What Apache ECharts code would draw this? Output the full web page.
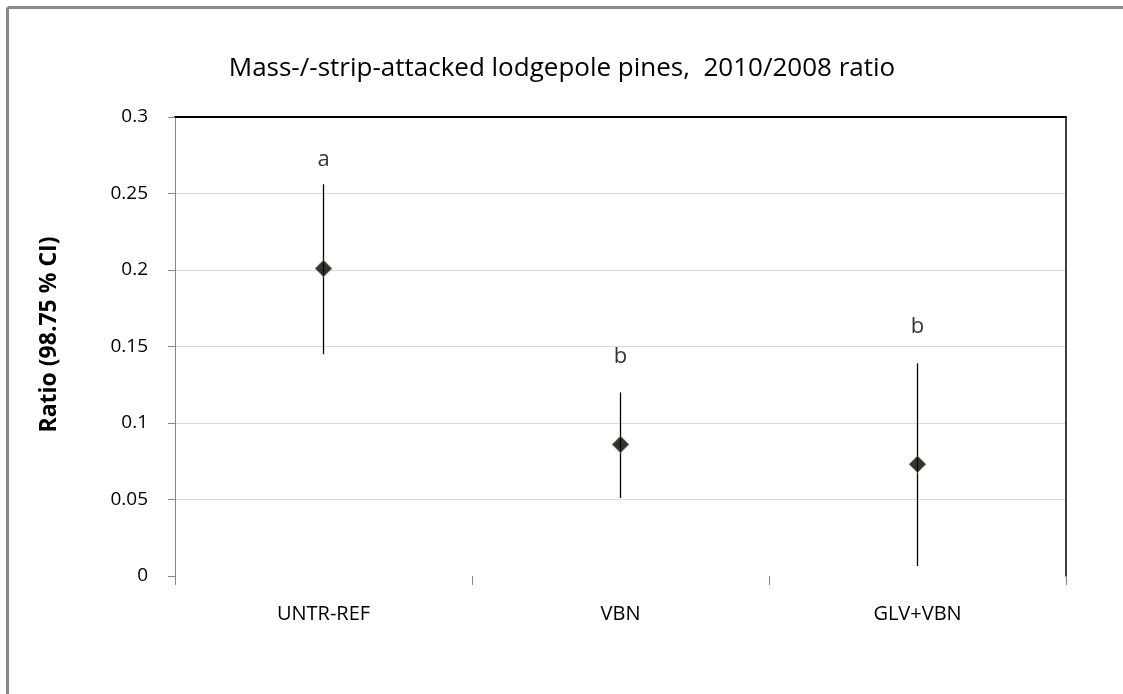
<!DOCTYPE html>
<html>
<head>
<meta charset="utf-8">
<script src="https://cdn.jsdelivr.net/npm/echarts@6/dist/echarts.min.js"></script>
<style>
html,body{margin:0;padding:0;background:#fff;}
#chart{width:1123px;height:694px;}
</style>
</head>
<body>
<div id="chart"></div>
<script>
var categories = ['UNTR-REF', 'VBN', 'GLV+VBN'];
var ratios = [0.201, 0.086, 0.073];
var ciLow = [0.145, 0.051, 0.0065];
var ciHigh = [0.256, 0.120, 0.139];
var letters = ['a', 'b', 'b'];
var letterPos = [0.272, 0.143, 0.163];
var yTicks = [0, 0.05, 0.1, 0.15, 0.2, 0.25, 0.3];

var FONT = '"Open Sans", sans-serif';

var chart = echarts.init(document.getElementById('chart'));

var errData = categories.map(function (c, i) { return [i, ciLow[i], ciHigh[i]]; });
var pointData = categories.map(function (c, i) { return [i, ratios[i]]; });
var letterData = categories.map(function (c, i) { return [i, letterPos[i], letters[i]]; });

chart.setOption({
  backgroundColor: '#fff',
  animation: false,
  title: {
    text: 'Mass-/-strip-attacked lodgepole pines,  2010/2008 ratio',
    left: 557, textAlign: 'center', top: 51,
    textStyle: { fontFamily: FONT, fontSize: 26, fontWeight: 'normal', color: '#000' }
  },
  graphic: [
    { type: 'line', shape: { x1: 7.5, y1: 7.5, x2: 1130, y2: 7.5 }, style: { stroke: '#888', lineWidth: 3 } },
    { type: 'line', shape: { x1: 7.5, y1: 7.5, x2: 7.5, y2: 700 }, style: { stroke: '#888', lineWidth: 3 } }
  ],
  grid: { left: 175, right: 57, top: 117, bottom: 118, containLabel: false },
  xAxis: [{
    type: 'category', data: categories, boundaryGap: true,
    axisLine: { show: false },
    axisTick: { show: true, length: 9, lineStyle: { color: '#868686', width: 1 } },
    axisLabel: { margin: 28, fontFamily: FONT, fontSize: 20, color: '#000' },
    splitLine: { show: false }
  }, {
    type: 'category', data: categories, position: 'top',
    axisLine: { show: true, onZero: false, lineStyle: { color: '#000', width: 2 } },
    axisTick: { show: false }, axisLabel: { show: false }
  }],
  yAxis: [{
    type: 'value', min: 0, max: 0.3, interval: 0.05,
    name: 'Ratio (98.75 % CI)', nameLocation: 'middle', nameGap: 114, nameRotate: 90,
    nameTextStyle: { fontFamily: FONT, fontSize: 23, fontWeight: 'bold', color: '#000', padding: [0, 0, 0, 24] },
    axisLine: { show: true, lineStyle: { color: '#868686', width: 1 } },
    axisTick: { show: true, length: 7, lineStyle: { color: '#868686' } },
    axisLabel: {
      margin: 27, fontFamily: FONT, fontSize: 19, color: '#000',
      formatter: function (v) { return String(+v.toFixed(2)); }
    },
    splitLine: { show: true, lineStyle: { color: ['transparent', '#d9d9d9', '#d9d9d9', '#d9d9d9', '#d9d9d9', '#d9d9d9', 'transparent'], width: 1 } }
  }, {
    type: 'value', min: 0, max: 0.3, interval: 0.05, position: 'right',
    axisLine: { show: true, onZero: false, lineStyle: { color: '#000', width: 1.5 } },
    axisTick: { show: false }, axisLabel: { show: false }, splitLine: { show: false }
  }],
  series: [{
    type: 'custom',
    data: errData,
    renderItem: function (params, api) {
      var top = api.coord([api.value(0), api.value(2)]);
      var bot = api.coord([api.value(0), api.value(1)]);
      return {
        type: 'line',
        shape: { x1: top[0], y1: top[1], x2: bot[0], y2: bot[1] },
        style: { stroke: '#000', lineWidth: 1.3 }
      };
    },
    z: 2
  }, {
    type: 'scatter',
    data: pointData,
    symbol: 'diamond', symbolSize: [17, 17],
    itemStyle: { color: '#000', borderColor: '#a8b860', borderWidth: 0.8 },
    z: 3
  }, {
    type: 'scatter',
    data: letterData,
    symbolSize: 0,
    label: {
      show: true, position: 'inside',
      formatter: function (p) { return p.value[2]; },
      fontFamily: FONT, fontSize: 22, color: '#000'
    },
    z: 4
  }]
});
</script>
</body>
</html>
